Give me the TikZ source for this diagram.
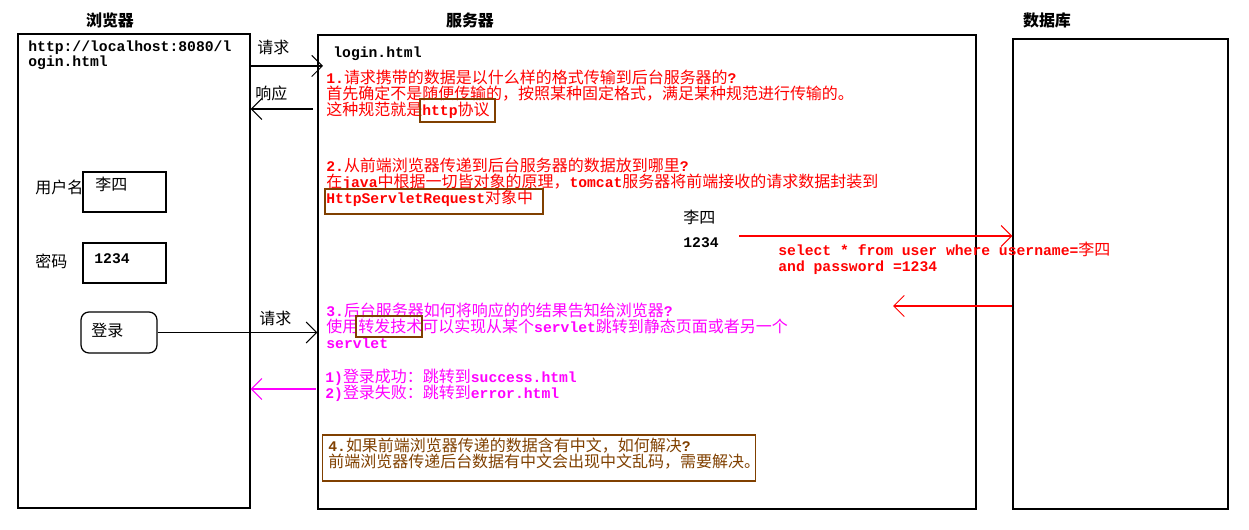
\documentclass[tikz,border=0pt]{standalone}
\usepackage{fontspec}
\setmainfont{Noto Sans CJK SC}
\newfontfamily\monofam[Scale=0.92]{Liberation Mono}
\newcommand{\mn}[1]{{\monofam\bfseries #1}}
\newcommand{\notefont}{\fontsize{9.1}{9.0}\selectfont\lineskiplimit=-5pt\relax}
\usetikzlibrary{arrows.meta,positioning}
\definecolor{hlbrown}{RGB}{128,64,0}
\definecolor{fwdpink}{RGB}{255,0,255}

\begin{document}
\begin{tikzpicture}[x=0.02cm, y=-0.02cm,
  every node/.style={font=\notefont},
  box/.style={draw, line width=0.7pt, inner sep=0pt},
  hl/.style={draw=hlbrown, line width=0.6pt, inner sep=0pt},
  txt/.style={anchor=west, inner sep=0pt},
  para/.style={anchor=north west, align=left, inner sep=0pt},
  title/.style={font=\notefont\bfseries},
  arr/.style={-{Straight Barb[length=6pt,width=12pt]}, line width=0.6pt}
]
  \useasboundingbox (0,0) rectangle (1249,530);

  % Columns
  \node[box, minimum width=4.64cm, minimum height=9.48cm] (brw) at (134,271) {};
  \node[box, minimum width=13.16cm, minimum height=9.48cm] (srv) at (647,272) {};
  \node[box, minimum width=4.3cm, minimum height=9.4cm] (db) at (1120.5,274) {};
  \node[title] (brwt) at (110,20) {浏览器};
  \node[title] (srvt) at (470,20) {服务器};
  \node[title] (dbt) at (1047,20) {数据库};

  % Browser page
  \node[para] (url) at (28,40) {\mn{http://localhost:8080/l}\\\mn{ogin.html}};
  \node[txt] (ulbl) at (35,187) {用户名};
  \node[box, minimum width=1.66cm, minimum height=0.8cm] (ubox) at (124.5,192) {};
  \node[txt] (uval) at (95,184) {李四};
  \node[txt] (plbl) at (35,261) {密码};
  \node[box, minimum width=1.66cm, minimum height=0.8cm] (pbox) at (124.5,263) {};
  \node[txt] (pval) at (94,259) {\mn{1234}};
  \node[box, rounded corners=4.5pt, minimum width=1.52cm, minimum height=0.82cm] (btn) at (119,332.5) {};
  \node[txt] (btnlbl) at (91,330) {登录};

  % Request / response
  \node[txt] (req1) at (257,47) {请求};
  \node[txt] (resp) at (255,93) {响应};
  \node[txt] (req2) at (259,318) {请求};
  \coordinate (reqend) at (323,66);
  \draw[arr] (brw.east |- reqend) -- (reqend);
  \coordinate (respstart) at (313,109);
  \draw[arr] (respstart) -- (respstart -| brw.east);
  \draw[arr] (btn.east) -- (btn.east -| srv.west);

  % Server notes
  \node[txt] (page) at (333,54) {\mn{login.html}};
  \node[para, red] (q1) at (326,70) {\mn{1.}请求携带的数据是以什么样的格式传输到后台服务器的\mn{?}\\首先确定不是随便传输的，按照某种固定格式，满足某种规范进行传输的。\\这种规范就是\mn{http}协议};
  \node[hl, minimum width=1.5cm, minimum height=0.46cm] (hl1) at (457.5,110.5) {};
  \node[para, red] (q2) at (326,158) {\mn{2.}从前端浏览器传递到后台服务器的数据放到哪里\mn{?}\\在\mn{java}中根据一切皆对象的原理，\mn{tomcat}服务器将前端接收的请求数据封装到\\\mn{HttpServletRequest}对象中};
  \node[hl, minimum width=4.36cm, minimum height=0.5cm] (hl2) at (434,201.5) {};

  % Query to database
  \node[txt] (sname) at (683,217) {李四};
  \node[txt] (spwd) at (683,243) {\mn{1234}};
  \coordinate (sqlstart) at (739,236);
  \draw[arr, red] (sqlstart) -- (sqlstart -| db.west);
  \node[para, red] (sql) at (778,242) {\mn{select * from user where username=}李四\\\mn{and password =1234}};
  \coordinate (sqlback) at (893,306);
  \draw[arr, red] (sqlback -| db.west) -- (sqlback);

  % Forward
  \node[para, fwdpink] (q3) at (326,303) {\mn{3.}后台服务器如何将响应的的结果告知给浏览器\mn{?}\\使用转发技术可以实现从某个\mn{servlet}跳转到静态页面或者另一个\\\mn{servlet}};
  \node[hl, minimum width=1.32cm, minimum height=0.42cm] (hl3) at (389,326.5) {};
  \node[para, fwdpink] (res) at (325,369) {\mn{1)}登录成功：跳转到\mn{success.html}\\\mn{2)}登录失败：跳转到\mn{error.html}};
  \coordinate (fwdstart) at (316,389);
  \draw[arr, fwdpink] (fwdstart) -- (fwdstart -| brw.east);

  % Encoding question
  \node[hl, minimum width=8.68cm, minimum height=0.92cm] (q4box) at (539,458) {};
  \node[para, hlbrown] (q4) at (328,438) {\mn{4.}如果前端浏览器传递的数据含有中文，如何解决\mn{?}\\前端浏览器传递后台数据有中文会出现中文乱码，需要解决。};

\end{tikzpicture}
\end{document}
